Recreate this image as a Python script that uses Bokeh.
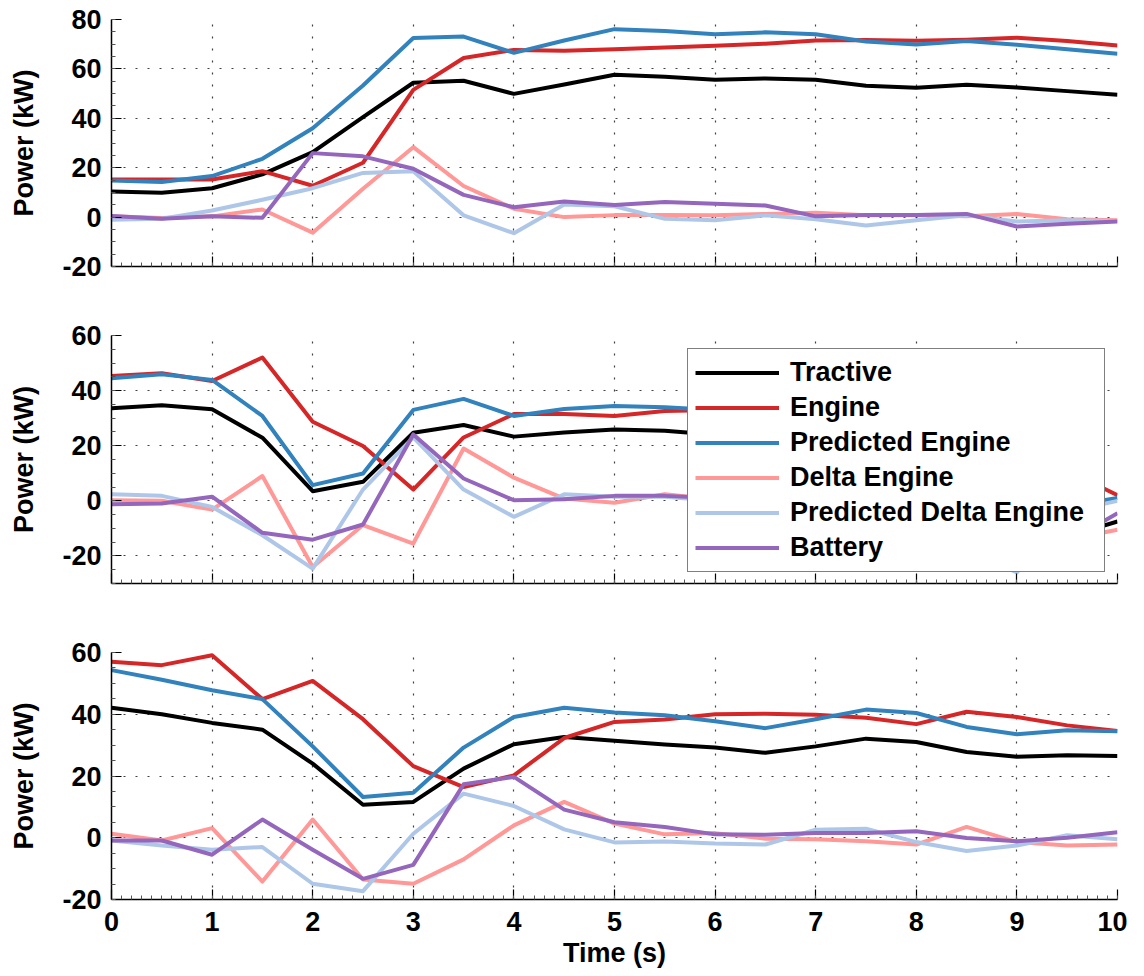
from bokeh.plotting import figure
from bokeh.models import (Range1d, SingleIntervalTicker, Legend, LegendItem,
                          NumeralTickFormatter, CustomLabelingPolicy)
from bokeh.layouts import column
from bokeh.embed import file_html
from bokeh.resources import INLINE

time = [0, 0.5, 1, 1.5, 2, 2.5, 3, 3.5, 4, 4.5, 5, 5.5, 6, 6.5, 7, 7.5, 8, 8.5, 9, 9.5, 10]

series_names = ["Tractive", "Engine", "Predicted Engine", "Delta Engine",
                "Predicted Delta Engine", "Battery"]
series_colors = ["#000000", "#d62728", "#3182bd", "#ff9896", "#aec7e8", "#9467bd"]

# Panel 1
p1_tractive = [10.4, 9.9, 11.7, 17.3, 26.3, 40.5, 54.4, 55.2, 49.9, 53.7, 57.6,
               56.8, 55.6, 56.1, 55.6, 53.2, 52.4, 53.6, 52.5, 51.0, 49.5]
p1_engine = [15.2, 15.2, 15.2, 18.6, 12.7, 22.0, 51.5, 64.4, 67.7, 67.3, 68.0,
             68.7, 69.4, 70.2, 71.5, 71.7, 71.4, 71.8, 72.6, 71.3, 69.5]
p1_pred_engine = [14.8, 14.2, 16.6, 23.6, 36.0, 53.3, 72.5, 73.1, 66.5, 71.5, 76.1,
                  75.3, 74.0, 74.8, 74.0, 71.1, 69.9, 71.3, 69.8, 68.0, 66.1]
p1_delta = [0.3, -0.4, 0.3, 3.1, -6.3, 11.5, 28.3, 12.6, 3.4, 0.0, 0.8,
            0.9, 0.7, 1.3, 1.8, 0.7, 0.7, 0.3, 1.3, -0.9, -1.3]
p1_pred_delta = [-1.1, -0.7, 2.7, 7.0, 11.7, 17.9, 18.6, 0.7, -6.5, 5.1, 4.4,
                 -0.7, -1.3, 0.7, -0.9, -3.4, -1.3, 0.7, -1.8, -1.3, -1.6]
p1_battery = [0.4, -0.7, 0.3, -0.3, 25.9, 24.6, 19.6, 9.0, 4.0, 6.3, 4.9,
              6.1, 5.4, 4.7, 0.3, 0.9, 0.9, 1.3, -3.8, -2.7, -1.8]

# Panel 2
p2_tractive = [33.6, 34.7, 33.2, 22.9, 3.5, 6.9, 24.7, 27.5, 23.3, 24.8, 25.9,
               25.4, 24.0, 23.0, 22.0, 20.0, 16.0, 8.0, -2.0, -13.0, -7.5]
p2_engine = [45.3, 46.3, 43.5, 52.0, 28.7, 19.9, 4.1, 23.0, 31.5, 31.5, 30.8,
             32.6, 33.0, 33.0, 32.0, 30.0, 26.0, 20.0, 16.0, 11.0, 2.0]
p2_pred_engine = [44.5, 45.9, 43.9, 30.8, 5.7, 9.9, 33.0, 37.0, 30.8, 33.3, 34.4,
                  34.0, 33.0, 32.0, 31.0, 28.0, 24.0, 16.0, 6.0, -2.0, 1.0]
p2_delta = [0.2, 0.0, -3.2, 9.0, -24.0, -8.8, -15.5, 19.0, 8.4, 0.8, -0.7,
            2.4, 0.5, 0.0, -2.0, -4.0, -8.0, -10.0, -12.0, -14.0, -10.5]
p2_pred_delta = [2.4, 1.8, -2.2, -12.5, -24.6, 4.1, 23.0, 4.1, -5.8, 2.4, 1.5,
                 1.5, 0.0, -1.0, -3.0, -6.0, -10.0, -18.0, -26.0, -4.0, 0.0]
p2_battery = [-1.2, -1.0, 1.5, -11.6, -14.1, -8.6, 24.1, 8.1, 0.2, 0.6, 1.8,
              1.8, 1.0, 0.0, -3.0, -8.0, -12.0, -14.0, -15.0, -15.0, -4.5]

# Panel 3
p3_tractive = [42.1, 40.0, 37.2, 35.0, 24.0, 10.7, 11.6, 22.4, 30.3, 32.6, 31.4,
               30.2, 29.2, 27.5, 29.6, 32.1, 31.0, 27.8, 26.2, 26.7, 26.5]
p3_engine = [57.0, 55.9, 59.1, 44.9, 50.8, 38.4, 23.2, 16.4, 20.2, 32.3, 37.5,
             38.3, 40.0, 40.2, 39.8, 38.9, 36.8, 40.8, 39.1, 36.4, 34.6]
p3_pred_engine = [54.3, 51.2, 47.8, 44.9, 29.6, 13.2, 14.6, 29.2, 39.1, 42.1, 40.6,
                  39.7, 37.7, 35.5, 38.4, 41.5, 40.4, 35.9, 33.5, 34.8, 34.5]
p3_delta = [1.3, -0.9, 3.1, -14.2, 5.9, -13.5, -14.9, -7.0, 4.0, 11.6, 4.6,
            1.1, 1.5, -0.3, -0.5, -1.1, -2.2, 3.5, -1.4, -2.5, -2.2]
p3_pred_delta = [-0.9, -2.5, -3.9, -3.0, -14.9, -17.3, 1.3, 14.3, 10.3, 2.7, -1.5,
                 -1.2, -1.9, -2.2, 2.6, 2.9, -1.4, -4.3, -2.5, 0.8, -0.5]
p3_battery = [-0.9, -0.9, -5.5, 5.9, -3.9, -13.3, -8.8, 17.3, 19.7, 9.1, 5.0,
              3.5, 1.1, 1.0, 1.5, 1.5, 2.1, -0.1, -1.1, 0.0, 1.8]

panels = [
    dict(data=[p1_tractive, p1_engine, p1_pred_engine, p1_delta, p1_pred_delta, p1_battery],
         yr=(-20, 80), fh=247, top=19, bottom=34, last=False, legend=False),
    dict(data=[p2_tractive, p2_engine, p2_pred_engine, p2_delta, p2_pred_delta, p2_battery],
         yr=(-30, 60), fh=248, top=35, bottom=34, last=False, legend=True),
    dict(data=[p3_tractive, p3_engine, p3_pred_engine, p3_delta, p3_pred_delta, p3_battery],
         yr=(-20, 60), fh=247, top=35, bottom=76, last=True, legend=False),
]

FONT = "Liberation Sans"
FS = "27px"

figs = []
for cfg in panels:
    p = figure(frame_width=1006, frame_height=cfg["fh"],
               x_range=Range1d(0, 10), y_range=Range1d(*cfg["yr"]),
               output_backend="svg", toolbar_location=None,
               min_border_left=111, min_border_right=10,
               min_border_top=cfg["top"], min_border_bottom=cfg["bottom"])
    p.outline_line_color = None
    p.background_fill_color = "white"
    p.border_fill_color = "white"

    p.xaxis.ticker = SingleIntervalTicker(interval=1, num_minor_ticks=10)
    p.yaxis.ticker = SingleIntervalTicker(interval=20, num_minor_ticks=4)
    p.yaxis.formatter = NumeralTickFormatter(format="0")
    p.xaxis.formatter = NumeralTickFormatter(format="0")

    for ax in (p.xaxis[0], p.yaxis[0]):
        ax.axis_line_color = "black"
        ax.axis_line_width = 1.5
        ax.major_tick_in = 10
        ax.major_tick_out = 0
        ax.minor_tick_in = 4
        ax.minor_tick_out = 0
        ax.major_tick_line_color = "black"
        ax.major_tick_line_width = 1.2
        ax.minor_tick_line_color = "#555555"
        ax.major_label_text_font = FONT
        ax.major_label_text_font_size = FS
        ax.major_label_text_font_style = "bold"
        ax.major_label_text_color = "black"
        ax.axis_label_text_font = FONT
        ax.axis_label_text_font_size = FS
        ax.axis_label_text_font_style = "bold"
        ax.axis_label_text_color = "black"

    p.yaxis.axis_label = "Power (kW)"
    p.yaxis.major_label_standoff = 10
    p.yaxis.axis_label_standoff = 20

    if cfg["last"]:
        p.xaxis.axis_label = "Time (s)"
        p.xaxis.major_label_standoff = 12
        p.xaxis.axis_label_standoff = 4
    else:
        p.xaxis.major_label_text_font_size = "0px"
        p.xaxis.major_label_standoff = 0
        p.xaxis.major_label_policy = CustomLabelingPolicy(
            code="for (const i of indices) { indices.unset(i) }\nreturn indices")

    for g in (p.xgrid[0], p.ygrid[0]):
        g.grid_line_color = "black"
        g.grid_line_alpha = 0.75
        g.grid_line_width = 1.2
        g.grid_line_dash = "2 10"

    items = []
    for name, color, ys in zip(series_names, series_colors, cfg["data"]):
        r = p.line(time, ys, line_color=color, line_width=4, line_join="round")
        items.append(LegendItem(label=name, renderers=[r]))

    if cfg["legend"]:
        leg = Legend(items=items, location=(576, 11))
        leg.label_text_font = FONT
        leg.label_text_font_size = FS
        leg.label_text_font_style = "bold"
        leg.label_text_color = "black"
        leg.glyph_width = 84
        leg.glyph_height = 33
        leg.label_height = 33
        leg.label_width = 307
        leg.label_standoff = 11
        leg.spacing = 2
        leg.padding = 7
        leg.margin = 0
        leg.border_line_color = "black"
        leg.border_line_width = 1.5
        leg.background_fill_color = "white"
        leg.background_fill_alpha = 1.0
        p.add_layout(leg, "center")

    figs.append(p)

layout = column(*figs, spacing=0)
open("out.html", "w").write(file_html(layout, INLINE))
